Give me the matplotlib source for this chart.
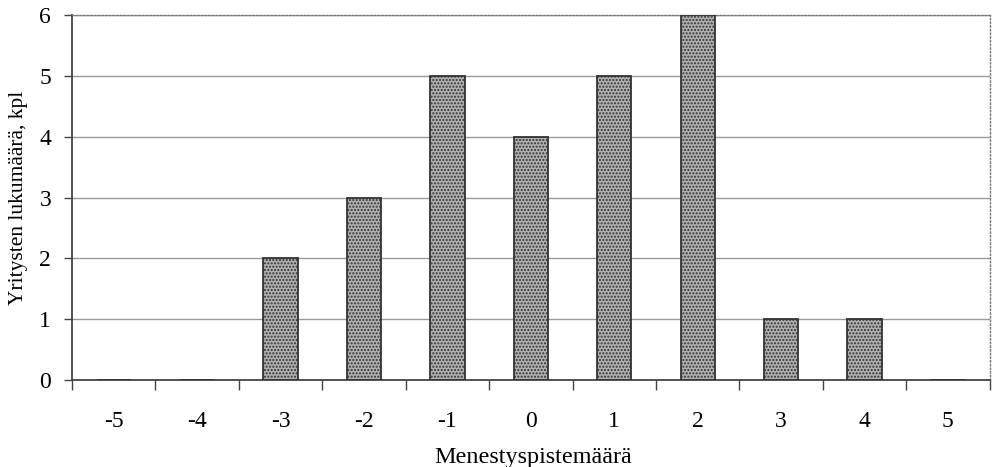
import numpy as np
import matplotlib.pyplot as plt
from matplotlib.ticker import FixedLocator

pisteet = ['-5', '-4', '-3', '-2', '-1', '0', '1', '2', '3', '4', '5']
lukumaara = [0, 0, 2, 3, 5, 4, 5, 6, 1, 1, 0]

plt.rcParams['font.family'] = ['Liberation Serif', 'DejaVu Serif']
plt.rcParams['hatch.color'] = '#8a8a8a'

fig = plt.figure(figsize=(9.92, 4.67), dpi=100)
ax = fig.add_axes([0.0726, 0.186, 0.925, 0.782])

x = np.arange(len(pisteet))
ax.bar(x, lukumaara, width=0.41, color='#b0b0b0', edgecolor='#333333',
       linewidth=1.3, hatch='.....', zorder=3)

ax.set_xlim(-0.5, len(pisteet) - 0.5)
ax.set_ylim(0, 6)
ax.set_yticks(range(0, 7))
ax.yaxis.grid(True, color='#9a9a9a', linewidth=1.0, zorder=0)

ax.set_xticks(x)
ax.set_xticklabels(pisteet)
ax.xaxis.set_minor_locator(FixedLocator(np.arange(-0.5, len(pisteet), 1.0)))
ax.tick_params(axis='x', which='major', length=0, pad=22, labelsize=17)
ax.tick_params(axis='x', which='minor', length=7, width=1, color='#444444', direction='out')
ax.tick_params(axis='y', length=6, width=1, color='#444444', labelsize=17, pad=9)

for s in ['top', 'right']:
    ax.spines[s].set_linestyle(':')
    ax.spines[s].set_color('#777777')
    ax.spines[s].set_linewidth(1.0)
ax.spines['left'].set_color('#444444')
ax.spines['left'].set_linewidth(1.3)
ax.spines['bottom'].set_color('#444444')
ax.spines['bottom'].set_linewidth(1.3)

fig.text(0.537, 0.009, 'Menestyspistemäärä', fontsize=17.4, ha='center', va='baseline')
ax.set_ylabel('Yritysten lukumäärä, kpl', fontsize=15.5, labelpad=8)

fig.savefig('out.png', dpi=100)
